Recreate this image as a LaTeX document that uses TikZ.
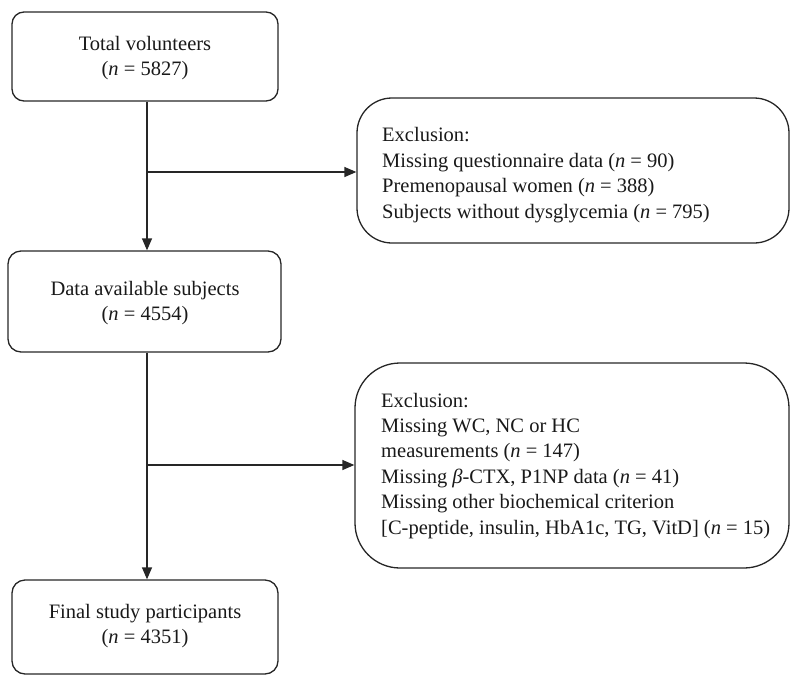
\documentclass[tikz,border=0pt]{standalone}
\usepackage{fontspec}
\setmainfont{Liberation Serif}
\usetikzlibrary{arrows.meta}
\begin{document}
\begin{tikzpicture}[x=1pt,y=1pt,
  box/.style={draw=black!85, line width=1.3pt, rectangle, inner sep=0pt},
  txt/.style={font={\fontsize{20.5}{25.4}\selectfont}, text=black!90, inner sep=0pt},
  conn/.style={draw=black!85, line width=1.3pt},
  arr/.style={conn, -{Triangle[length=12pt,width=10pt]}}]
\useasboundingbox (0,0) rectangle (790,-675);
% boxes
\node[box, rounded corners=12pt, minimum width=266pt, minimum height=89pt] (b1) at (145,-56.5) {};
\node[box, rounded corners=13pt, minimum width=273pt, minimum height=101pt] (b3) at (144.5,-301.5) {};
\node[box, rounded corners=13pt, minimum width=266pt, minimum height=94pt] (b5) at (145,-627) {};
\node[box, rounded corners=35pt, minimum width=432pt, minimum height=145pt] (b2) at (573,-170.5) {};
\node[box, rounded corners=45pt, minimum width=434pt, minimum height=205pt] (b4) at (572,-465.5) {};
% texts
\node[txt, align=center] (t1) at (145,-58) {Total volunteers\\(\textit{n} = 5827)};
\node[txt, align=center] (t3) at (145,-303) {Data available subjects\\(\textit{n} = 4554)};
\node[txt, align=center] (t5) at (145,-626) {Final study participants\\(\textit{n} = 4351)};
\node[txt, align=left, anchor=base west] (t2) at (382,-218) {Exclusion:\\Missing questionnaire data (\textit{n} = 90)\\Premenopausal women (\textit{n} = 388)\\Subjects without dysglycemia (\textit{n} = 795)};
\node[txt, align=left, anchor=base west] (t4) at (381,-534) {Exclusion:\\Missing WC, NC or HC\\measurements (\textit{n} = 147)\\Missing \textit{β}-CTX, P1NP data (\textit{n} = 41)\\Missing other biochemical criterion\\{[}C-peptide, insulin, HbA1c, TG, VitD] (\textit{n} = 15)};
% connectors
\coordinate (j1) at (147,-172);
\coordinate (j2) at (147,-465);
\draw[arr] (b1.south -| j1) -- (b3.north -| j1);
\draw[arr] (j1) -- (j1 -| b2.west);
\draw[arr] (b3.south -| j2) -- (b5.north -| j2);
\draw[arr] (j2) -- (j2 -| b4.west);
\end{tikzpicture}
\end{document}
